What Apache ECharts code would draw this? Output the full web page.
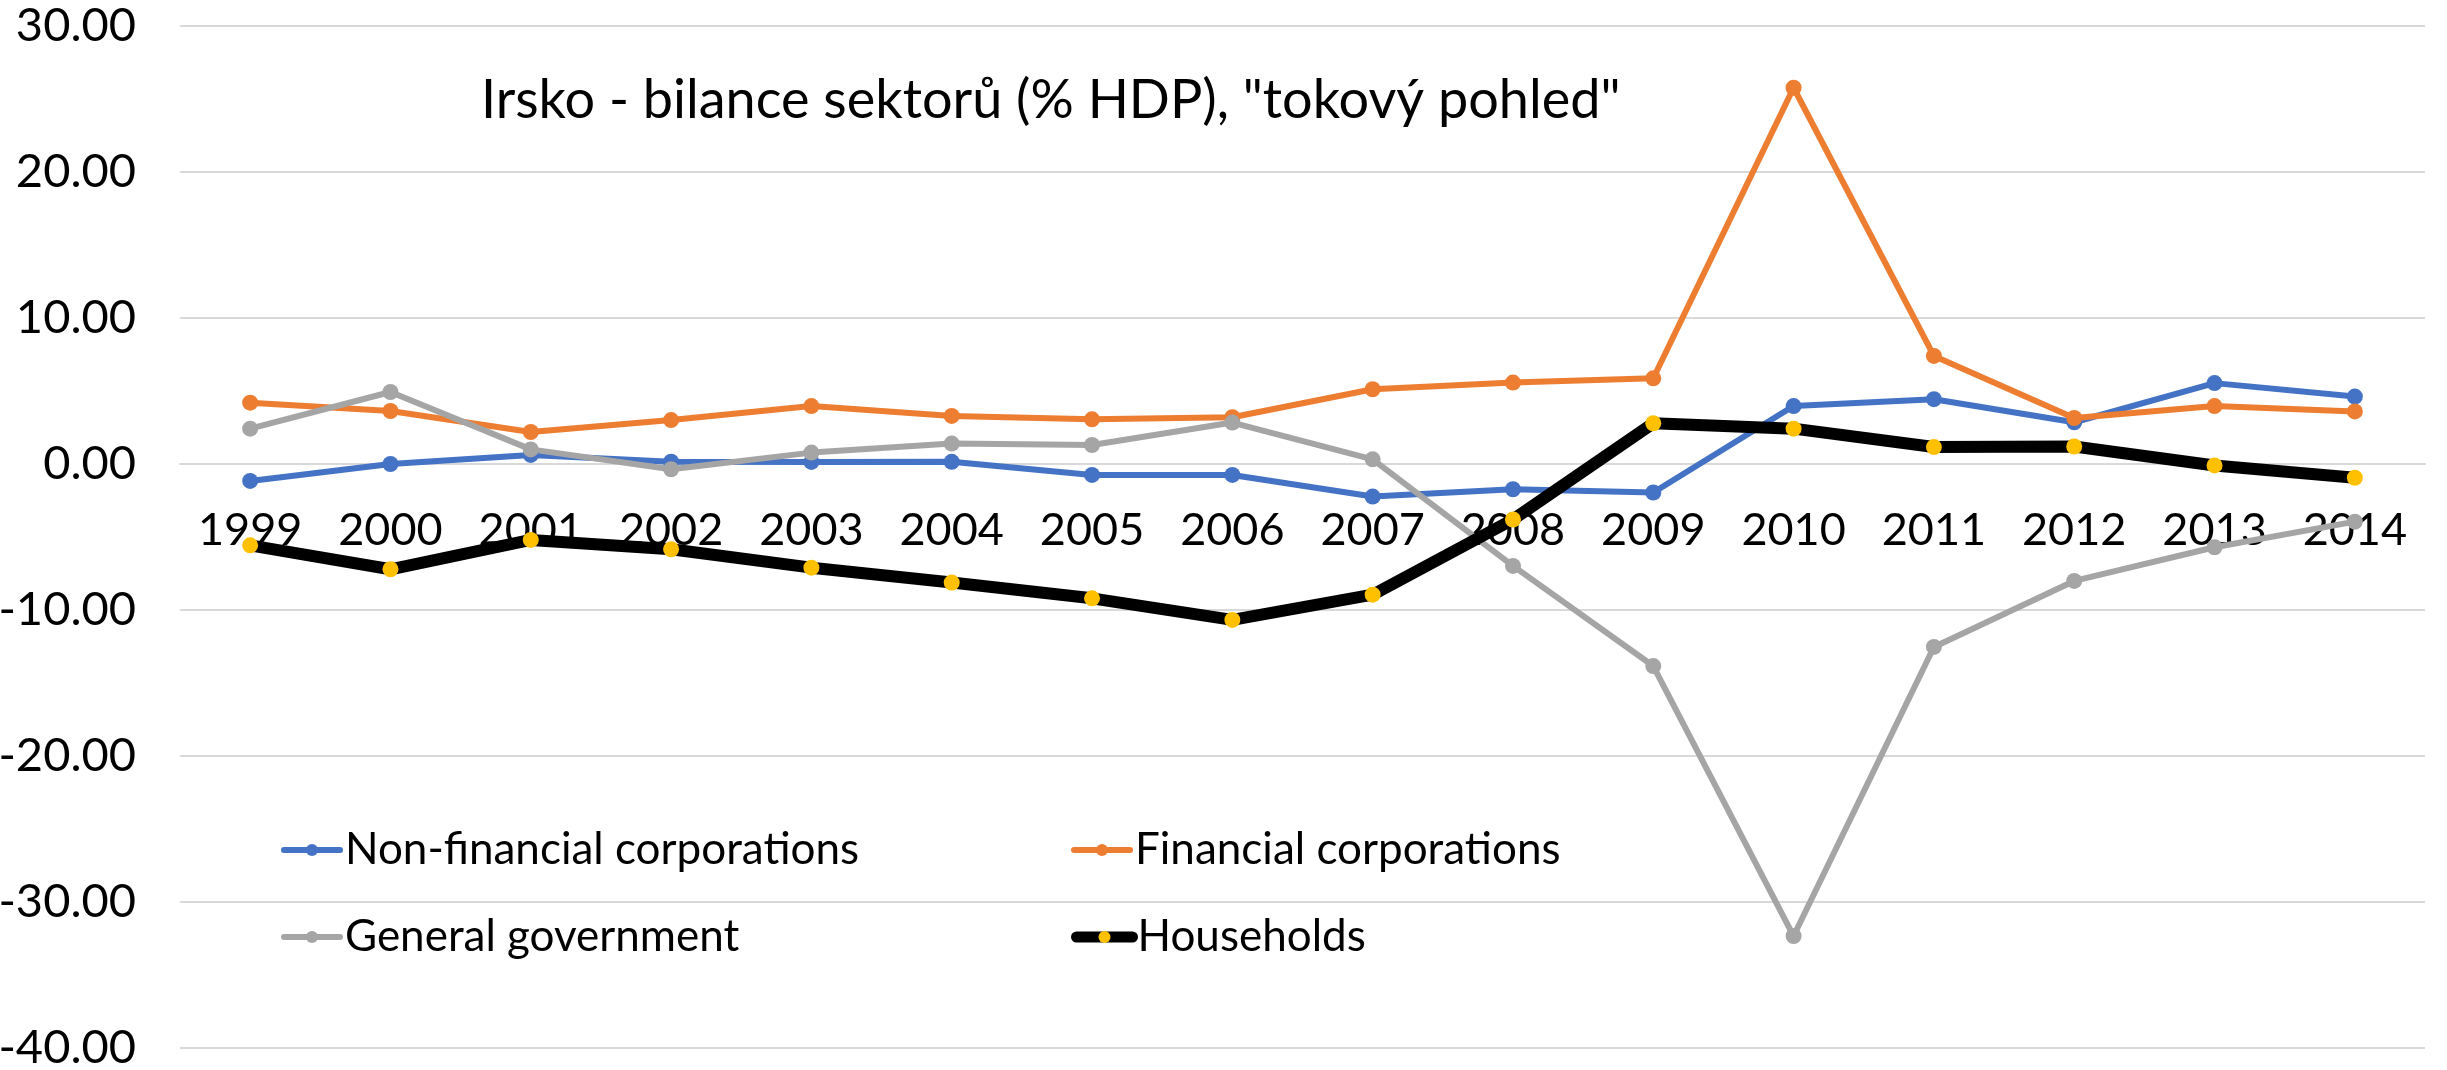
<!DOCTYPE html>
<html>
<head>
<meta charset="utf-8">
<title>Irsko - bilance sektorů</title>
<script src="https://cdn.jsdelivr.net/npm/echarts@6/dist/echarts.min.js"></script>
<style>
  html, body { margin: 0; padding: 0; background: #ffffff; }
  #chart { width: 2447px; height: 1070px; }
</style>
</head>
<body>
<div id="chart"></div>
<script>
// Sector balances of Ireland, % of GDP
const years = ['1999', '2000', '2001', '2002', '2003', '2004', '2005', '2006',
               '2007', '2008', '2009', '2010', '2011', '2012', '2013', '2014'];

const nonFinancialCorporations = [-1.16, 0.00, 0.62, 0.16, 0.14, 0.15, -0.75, -0.75,
                                  -2.23, -1.73, -1.95, 3.97, 4.44, 2.86, 5.54, 4.62];
const financialCorporations = [4.20, 3.63, 2.19, 3.01, 3.97, 3.29, 3.06, 3.20,
                               5.12, 5.58, 5.87, 25.77, 7.40, 3.15, 3.97, 3.60];
const generalGovernment = [2.42, 4.93, 1.00, -0.36, 0.78, 1.40, 1.30, 2.84,
                           0.32, -6.98, -13.84, -32.33, -12.53, -8.01, -5.70, -3.95];
const households = [-5.57, -7.21, -5.20, -5.84, -7.10, -8.12, -9.20, -10.68,
                    -8.95, -3.80, 2.79, 2.42, 1.16, 1.20, -0.10, -0.94];

const yTicks = { min: -40, max: 30, step: 10 };

const FONT = 'Lato, "Liberation Sans", sans-serif';
const BLUE = '#4472C4', ORANGE = '#ED7D31', GREY = '#A5A5A5', BLACK = '#000000', GOLD = '#FFC000';

const WIDTH = 2447, HEIGHT = 1070;
const GRID = { left: 180, right: 22, top: 26, bottom: 22 };
// the category axis sits on the zero line of the value axis
const plotHeight = HEIGHT - GRID.top - GRID.bottom;
const zeroOffset = -plotHeight * (0 - yTicks.min) / (yTicks.max - yTicks.min);

function lineSeries(name, data, lineColor, markerColor, width, size) {
  return {
    name: name,
    type: 'line',
    data: data,
    symbol: 'circle',
    symbolSize: size,
    showSymbol: true,
    smooth: false,
    lineStyle: { color: lineColor, width: width, cap: 'round', join: 'round' },
    itemStyle: { color: markerColor, borderWidth: 0 },
    emphasis: { disabled: true },
    animation: false
  };
}

function legendItem(name, left, top, lineWidth) {
  return {
    data: [name],
    left: left,
    top: top,
    padding: 0,
    itemWidth: 56,
    itemHeight: 15,
    itemGap: 0,
    selectedMode: false,
    lineStyle: { width: lineWidth, cap: 'round' },
    textStyle: { fontFamily: FONT, fontSize: 44, color: '#000', lineHeight: 50, padding: [0, 0, 0, 0] }
  };
}

const chart = echarts.init(document.getElementById('chart'), null, { renderer: 'canvas' });

chart.setOption({
  backgroundColor: '#ffffff',
  animation: false,
  title: {
    text: 'Irsko - bilance sektorů (% HDP), "tokový pohled"',
    left: 481,
    top: 74,
    padding: 0,
    textStyle: { fontFamily: FONT, fontSize: 54, fontWeight: 'normal', color: '#000' }
  },
  legend: [
    legendItem('Non-financial corporations', 281, 825, 6),
    legendItem('Financial corporations', 1071, 825, 6),
    legendItem('General government', 281, 912, 6),
    legendItem('Households', 1071, 912, 11)
  ],
  grid: {
    left: GRID.left, right: GRID.right, top: GRID.top, bottom: GRID.bottom,
    containLabel: false, outerBoundsMode: 'none'
  },
  xAxis: {
    type: 'category',
    data: years,
    boundaryGap: true,
    offset: zeroOffset,
    axisLine: { show: true, onZero: false, lineStyle: { color: '#D9D9D9', width: 2 } },
    axisTick: { show: false },
    axisLabel: { fontFamily: FONT, fontSize: 45, color: '#000', margin: 44, interval: 0, hideOverlap: false },
    splitLine: { show: false },
    z: 0
  },
  yAxis: {
    type: 'value',
    min: yTicks.min,
    max: yTicks.max,
    interval: yTicks.step,
    axisLine: { show: false },
    axisTick: { show: false },
    axisLabel: {
      fontFamily: FONT, fontSize: 47, color: '#000', margin: 44,
      formatter: v => v.toFixed(2)
    },
    splitLine: { show: true, lineStyle: { color: '#D9D9D9', width: 2 } }
  },
  series: [
    lineSeries('Non-financial corporations', nonFinancialCorporations, BLUE, BLUE, 6, 16),
    lineSeries('Financial corporations', financialCorporations, ORANGE, ORANGE, 6, 16),
    lineSeries('General government', generalGovernment, GREY, GREY, 6, 16),
    lineSeries('Households', households, BLACK, GOLD, 12, 16)
  ]
});
</script>
</body>
</html>
